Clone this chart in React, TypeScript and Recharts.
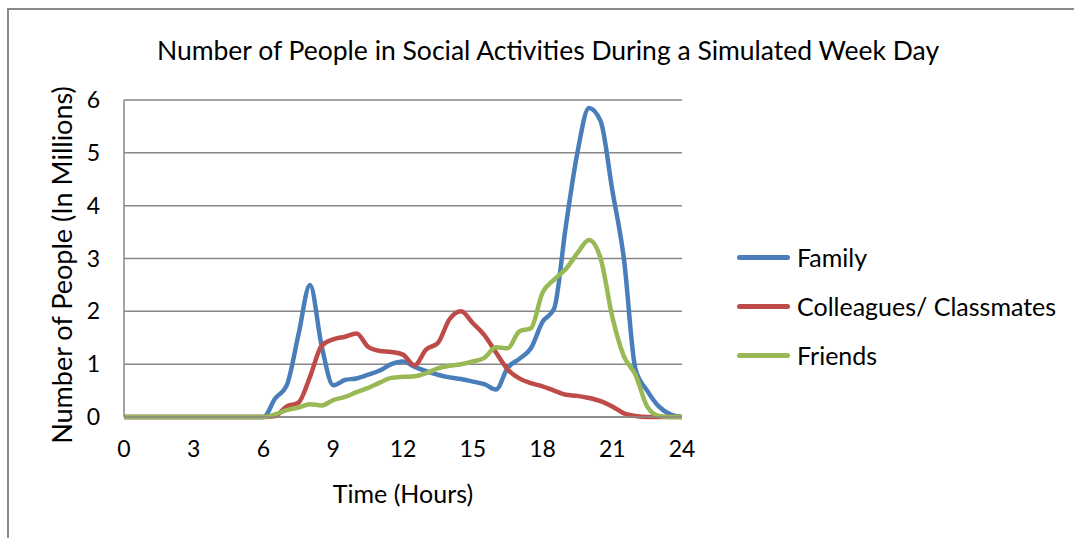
import { LineChart, Line, XAxis, YAxis, CartesianGrid } from 'recharts'

// half-hour steps, 0..24
const hours = Array.from({ length: 49 }, (_, i) => i / 2)

const family = [
  0, 0, 0, 0, 0, 0, 0, 0, 0, 0, 0, 0, 0,
  0.35, 0.6, 1.55, 2.5, 1.35, 0.6, 0.7, 0.73, 0.8, 0.88, 1.0,
  1.05, 0.95, 0.87, 0.8, 0.75, 0.72, 0.67, 0.62, 0.52, 0.93, 1.1, 1.3,
  1.8, 2.05, 3.6, 5.0, 5.85, 5.6, 4.3, 3.0, 0.9, 0.5, 0.2, 0.05, 0,
]

const colleagues = [
  0, 0, 0, 0, 0, 0, 0, 0, 0, 0, 0, 0, 0,
  0.02, 0.2, 0.27, 0.76, 1.35, 1.47, 1.52, 1.58, 1.33, 1.25, 1.23,
  1.18, 0.98, 1.28, 1.4, 1.85, 2.0, 1.78, 1.55, 1.22, 0.9, 0.73, 0.64,
  0.58, 0.5, 0.42, 0.4, 0.36, 0.3, 0.2, 0.07, 0.02, 0, 0, 0, 0,
]

const friends = [
  0, 0, 0, 0, 0, 0, 0, 0, 0, 0, 0, 0, 0,
  0.05, 0.13, 0.18, 0.24, 0.22, 0.32, 0.38, 0.47, 0.55, 0.65, 0.74,
  0.76, 0.77, 0.83, 0.92, 0.97, 1.0, 1.05, 1.12, 1.32, 1.3, 1.62, 1.68,
  2.35, 2.6, 2.8, 3.1, 3.35, 3.0, 1.9, 1.15, 0.8, 0.2, 0.02, 0, 0,
]

const xTicks = [0, 3, 6, 9, 12, 15, 18, 21, 24]
const yTicks = [0, 1, 2, 3, 4, 5, 6]

const SERIES = [
  { key: 'family', name: 'Family', color: '#4a7ebb' },
  { key: 'colleagues', name: 'Colleagues/ Classmates', color: '#be4b48' },
  { key: 'friends', name: 'Friends', color: '#98b954' },
]

const data = hours.map((h, i) => ({
  hour: h,
  family: family[i],
  colleagues: colleagues[i],
  friends: friends[i],
}))

const FONT = 'Lato, "Open Sans", sans-serif'
const GRID = '#878787'
const TICK = { fill: '#000', fontSize: 23, fontFamily: FONT }

export default function App() {
  return (
    <div style={{ position: 'absolute', left: 0, top: 0, width: 1074, height: 538, overflow: 'hidden', background: '#fff', fontFamily: FONT, color: '#000' }}>
      <div style={{ position: 'absolute', left: 7, top: 8, width: 1200, height: 700, borderTop: '2px solid #8a8a8a', borderLeft: '2px solid #8a8a8a' }} />
      <div style={{ position: 'absolute', left: 0, top: 34, width: 1096, textAlign: 'center', fontSize: 26.5, whiteSpace: 'nowrap' }}>
        Number of People in Social Activities During a Simulated Week Day
      </div>
      <div style={{ position: 'absolute', left: 0, top: 0 }}>
        <LineChart width={1074} height={538} data={data} margin={{ top: 100, right: 392, bottom: 61, left: 0 }}>
          <CartesianGrid vertical={false} stroke={GRID} strokeWidth={1.5} horizontalValues={yTicks} />
          <XAxis
            dataKey="hour"
            type="number"
            domain={[0, 24]}
            ticks={xTicks}
            interval={0}
            height={60}
            tick={TICK}
            tickLine={false}
            tickSize={0}
            tickMargin={24}
            axisLine={{ stroke: GRID, strokeWidth: 1.5 }}
          />
          <YAxis
            type="number"
            domain={[0, 6]}
            ticks={yTicks}
            interval={0}
            width={124}
            tick={TICK}
            tickLine={false}
            tickSize={0}
            tickMargin={24}
            axisLine={{ stroke: GRID, strokeWidth: 1.5 }}
          />
          {SERIES.map(s => (
            <Line
              key={s.key}
              dataKey={s.key}
              name={s.name}
              type="monotone"
              stroke={s.color}
              strokeWidth={4.5}
              dot={false}
              isAnimationActive={false}
            />
          ))}
        </LineChart>
      </div>
      <div style={{ position: 'absolute', left: 0, top: 478, width: 806, textAlign: 'center', fontSize: 25, whiteSpace: 'nowrap' }}>
        Time (Hours)
      </div>
      <div style={{ position: 'absolute', left: 62 - 250, top: 265 - 16, width: 500, height: 32, lineHeight: '32px', textAlign: 'center', fontSize: 27, whiteSpace: 'nowrap', transform: 'rotate(-90deg)' }}>
        Number of People (In Millions)
      </div>
      {SERIES.map((s, i) => (
        <div key={s.key} style={{ position: 'absolute', left: 737, top: 257 + i * 49 - 16, height: 32, display: 'flex', alignItems: 'center', whiteSpace: 'nowrap' }}>
          <div style={{ width: 53, height: 5, borderRadius: 3, background: s.color }} />
          <div style={{ marginLeft: 7, fontSize: 25 }}>{s.name}</div>
        </div>
      ))}
    </div>
  )
}
